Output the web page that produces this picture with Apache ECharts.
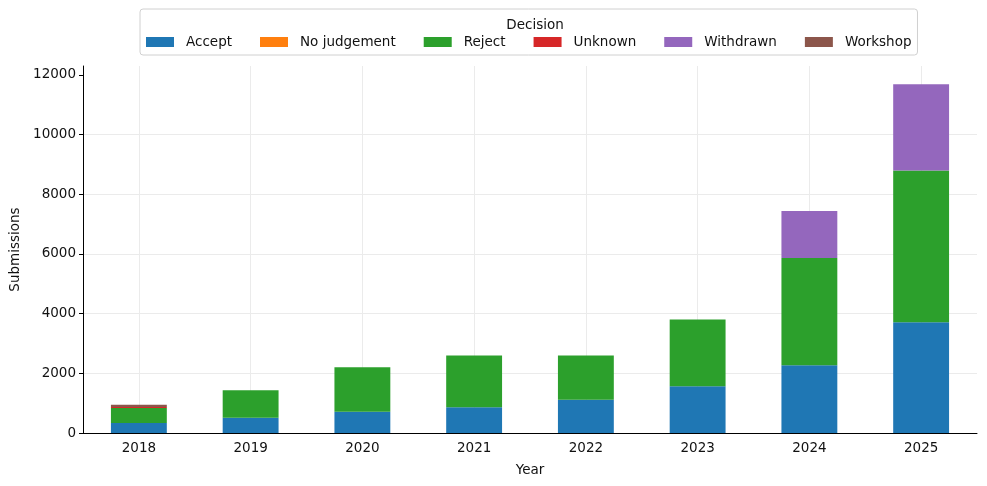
<!DOCTYPE html>
<html>
<head>
<meta charset="utf-8">
<script src="https://cdn.jsdelivr.net/npm/echarts@6/dist/echarts.min.js"></script>
<style>
	html, body { margin: 0; padding: 0; background: #fff; }
	#chart { width: 987px; height: 486px; }
</style>
</head>
<body>
<div id="chart"></div>
<script>
const years = ['2018', '2019', '2020', '2021', '2022', '2023', '2024', '2025'];
const accept = [335, 511, 711, 867, 1111, 1567, 2267, 3711];
const noJudgement = [0, 0, 0, 0, 0, 0, 0, 0];
const reject = [503, 922, 1489, 1733, 1489, 2233, 3596, 5089];
const unknown = [30, 0, 0, 0, 0, 0, 0, 0];
const withdrawn = [0, 0, 0, 0, 0, 0, 1574, 2890];
const workshop = [80, 0, 0, 0, 0, 0, 0, 0];
const yTicks = [0, 2000, 4000, 6000, 8000, 10000, 12000];

const font = 'DejaVu Sans';
const fs = 13.5;
const chart = echarts.init(document.getElementById('chart'));

const seriesDefs = [
	{ name: 'Accept', data: accept, color: '#1f77b4' },
	{ name: 'No judgement', data: noJudgement, color: '#ff7f0e' },
	{ name: 'Reject', data: reject, color: '#2ca02c' },
	{ name: 'Unknown', data: unknown, color: '#d62728' },
	{ name: 'Withdrawn', data: withdrawn, color: '#9467bd' },
	{ name: 'Workshop', data: workshop, color: '#8c564b' }
];

const option = {
	animation: false,
	textStyle: { fontFamily: font },
	title: {
		text: 'Decision',
		left: 530,
		top: 13,
		textAlign: 'center',
		textStyle: { fontFamily: font, fontSize: fs, fontWeight: 'normal', color: '#111' }
	},
	legend: {
		left: 140,
		top: 9,
		padding: [26, 6, 6, 6],
		borderColor: '#d0d0d0',
		borderWidth: 1,
		borderRadius: 3,
		itemWidth: 28,
		itemHeight: 10,
		itemGap: 28,
		icon: 'rect',
		textStyle: { fontFamily: font, fontSize: fs, color: '#111', padding: [0, 0, 0, 7] },
		data: seriesDefs.map(s => s.name)
	},
	grid: { left: 83, right: 10, top: 66, bottom: 53 },
	xAxis: {
		type: 'category',
		data: years,
		name: 'Year',
		nameLocation: 'middle',
		nameGap: 30,
		nameTextStyle: { fontFamily: font, fontSize: fs, color: '#111' },
		axisLine: { lineStyle: { color: '#000', width: 1 } },
		axisTick: { alignWithLabel: true, length: 4, lineStyle: { color: '#000' } },
		axisLabel: { fontFamily: font, fontSize: fs, color: '#111', margin: 8 },
		splitLine: { show: true, alignWithLabel: true, lineStyle: { color: '#ebebeb', width: 1 } }
	},
	yAxis: {
		type: 'value',
		min: 0,
		max: 12300,
		interval: 2000,
		name: 'Submissions',
		nameLocation: 'middle',
		nameGap: 58,
		nameTextStyle: { fontFamily: font, fontSize: fs, color: '#111' },
		axisLine: { show: true, lineStyle: { color: '#000', width: 1 } },
		axisTick: { show: true, length: 4, lineStyle: { color: '#000' }, customValues: yTicks },
		axisLabel: {
			fontFamily: font, fontSize: fs, color: '#111', margin: 7,
			customValues: yTicks,
			formatter: v => String(v)
		},
		splitLine: { show: true, showMaxLine: false, lineStyle: { color: '#ebebeb', width: 1 } }
	},
	series: seriesDefs.map(s => ({
		name: s.name,
		type: 'bar',
		stack: 'total',
		barWidth: '50%',
		data: s.data,
		itemStyle: { color: s.color }
	}))
};

chart.setOption(option);
</script>
</body>
</html>
